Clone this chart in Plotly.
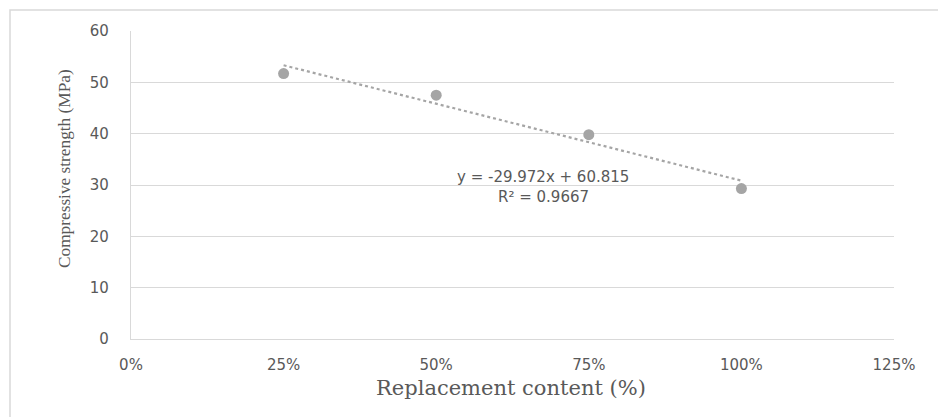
import plotly.graph_objects as go

# Replacement content (fraction) and measured compressive strength (MPa)
replacement = [0.25, 0.50, 0.75, 1.00]
strength = [51.7, 47.5, 39.8, 29.3]

# Linear trendline coefficients and fit quality
slope = -29.972
intercept = 60.815
r_squared = 0.9667

x_ticks = [0, 0.25, 0.5, 0.75, 1.0, 1.25]
y_ticks = [0, 10, 20, 30, 40, 50, 60]

W, H = 938, 417
L, R, T, B = 131, 44, 31, 78
pw, ph = W - L - R, H - T - B

def px_x(p):
    return (p - L) / pw

def px_y(p):
    return (H - B - p) / ph

grid = "#d9d9d9"
txt = "#595959"
pt = "#a5a5a5"

trend_x = [replacement[0], replacement[-1]]
trend_y = [slope * v + intercept for v in trend_x]

fig = go.Figure()
fig.add_trace(go.Scatter(
    x=trend_x, y=trend_y, mode="lines",
    line=dict(color=pt, width=2.2, dash="dot"),
    hoverinfo="skip", showlegend=False,
))
fig.add_trace(go.Scatter(
    x=replacement, y=strength, mode="markers",
    marker=dict(color=pt, size=11, line=dict(width=0)),
    showlegend=False,
))

tick_font = dict(family="DejaVu Sans", size=15, color=txt)

fig.update_xaxes(
    range=[0, 1.25], tickvals=x_ticks, tickformat=".0%",
    showgrid=False, zeroline=False,
    showline=True, linecolor=grid, linewidth=1.3,
    ticks="", tickfont=tick_font, ticklabelstandoff=12,
)
fig.update_yaxes(
    range=[0, 60], tickvals=y_ticks,
    showgrid=True, gridcolor=grid, gridwidth=1.3,
    zeroline=False, showline=True, linecolor=grid, linewidth=1.3,
    ticks="", tickfont=tick_font, ticklabelstandoff=18,
)

eq_x = 0.675
fig.add_annotation(
    x=eq_x, y=31.6, xref="x", yref="y", showarrow=False,
    xanchor="center", yanchor="middle",
    text=f"y = {slope:.3f}x + {intercept:.3f}",
    font=dict(family="DejaVu Sans", size=15, color=txt),
)
fig.add_annotation(
    x=eq_x, y=27.6, xref="x", yref="y", showarrow=False,
    xanchor="center", yanchor="middle",
    text=f"R² = {r_squared:.4f}",
    font=dict(family="DejaVu Sans", size=15, color=txt),
)

# Axis titles
fig.add_annotation(
    x=px_x(64), y=px_y(169), xref="paper", yref="paper", showarrow=False,
    xanchor="center", yanchor="middle",
    text="Compressive strength (MPa)", textangle=-90,
    font=dict(family="Liberation Serif", size=17.3, color=txt),
)
fig.add_annotation(
    x=px_x(511), y=px_y(388), xref="paper", yref="paper", showarrow=False,
    xanchor="center", yanchor="middle",
    text="Replacement content (%)",
    font=dict(family="DejaVu Serif", size=21, color=txt),
)

# Chart frame
fig.add_shape(
    type="rect", xref="paper", yref="paper",
    x0=px_x(10), x1=px_x(950), y0=px_y(430), y1=px_y(10),
    line=dict(color=grid, width=1.5), fillcolor="rgba(0,0,0,0)", layer="below",
)

fig.update_layout(
    width=W, height=H,
    margin=dict(l=L, r=R, t=T, b=B),
    paper_bgcolor="white", plot_bgcolor="white",
)

fig.write_html("out.html")
